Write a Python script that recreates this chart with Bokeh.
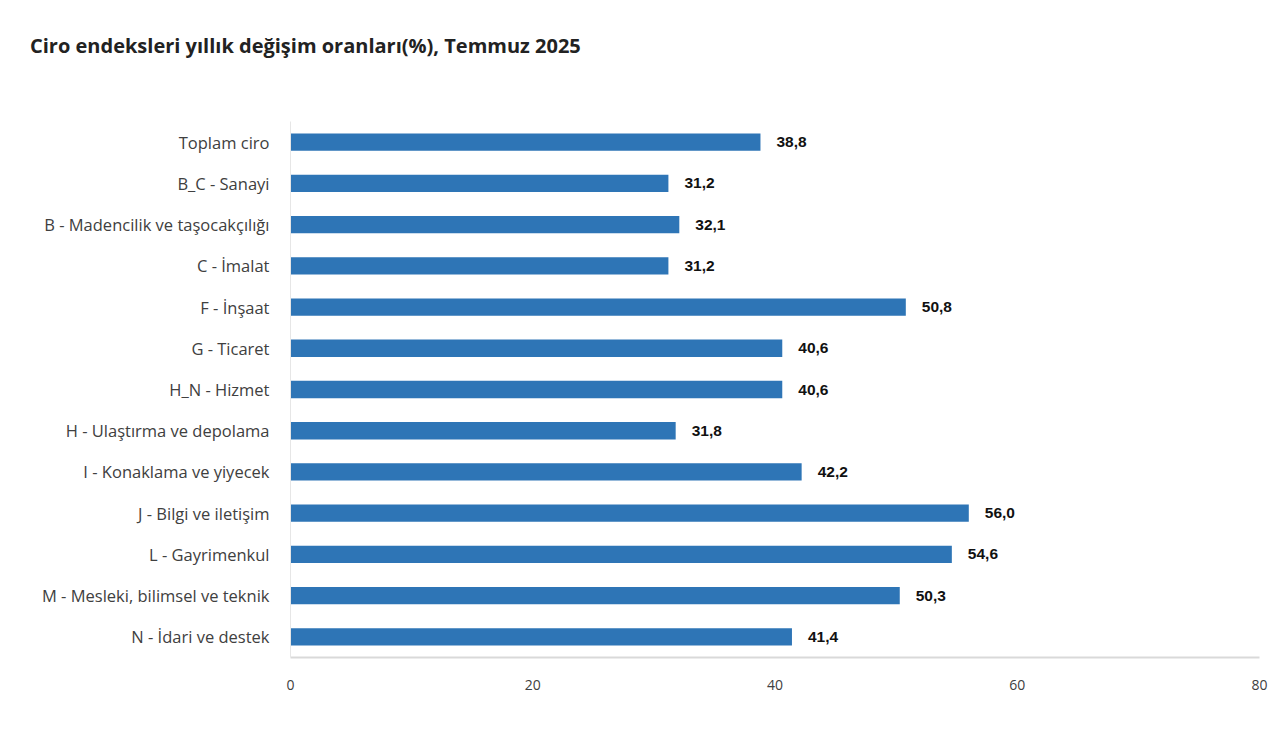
from bokeh.plotting import figure
from bokeh.models import FactorRange, Range1d, ColumnDataSource, FixedTicker, LabelSet, Div
from bokeh.layouts import column
from bokeh.core.properties import value
from bokeh.embed import file_html
from bokeh.resources import INLINE

title_text = "Ciro endeksleri yıllık değişim oranları(%), Temmuz 2025"
categories = [
    "Toplam ciro",
    "B_C - Sanayi",
    "B - Madencilik ve taşocakçılığı",
    "C - İmalat",
    "F - İnşaat",
    "G - Ticaret",
    "H_N - Hizmet",
    "H - Ulaştırma ve depolama",
    "I - Konaklama ve yiyecek",
    "J - Bilgi ve iletişim",
    "L - Gayrimenkul",
    "M - Mesleki, bilimsel ve teknik",
    "N - İdari ve destek",
]
values = [38.8, 31.2, 32.1, 31.2, 50.8, 40.6, 40.6, 31.8, 42.2, 56.0, 54.6, 50.3, 41.4]
x_ticks = [0, 20, 40, 60, 80]

labels = [f"{v:.1f}".replace(".", ",") for v in values]
src = ColumnDataSource(dict(cat=categories, val=values, lab=labels))

W = 1272
DIV_H = 64
H = 743 - DIV_H

head = Div(text=title_text, width=W, height=DIV_H, margin=(0, 0, 0, 0),
           styles={"font-family": "Open Sans", "font-weight": "bold",
                   "font-size": "20px", "color": "#222222",
                   "padding-left": "30px", "padding-top": "32px",
                   "box-sizing": "border-box", "line-height": "28px"})

p = figure(
    width=W, height=H,
    y_range=FactorRange(factors=list(reversed(categories))),
    x_range=Range1d(0, 80),
    output_backend="svg", toolbar_location=None,
    min_border_left=290, min_border_right=W - 1259,
    min_border_top=121 - DIV_H, min_border_bottom=743 - 657,
    margin=(0, 0, 0, 0),
)
p.outline_line_color = None
p.background_fill_color = "white"
p.border_fill_color = "white"

p.hbar(y="cat", right="val", left=0, height=0.42, source=src,
       fill_color="#2e75b6", line_color=None)

ls = LabelSet(x="val", y="cat", text="lab", source=src, x_offset=16,
              text_baseline="middle", text_font=value("Liberation Sans"),
              text_font_style="bold", text_font_size="15.5px", text_color="#111111")
p.add_layout(ls)

p.xgrid.grid_line_color = None
p.ygrid.grid_line_color = None

p.xaxis.ticker = FixedTicker(ticks=x_ticks)
p.xaxis.axis_line_color = "#d9d9d9"
p.xaxis.axis_line_width = 2
p.xaxis.major_tick_line_color = None
p.xaxis.minor_tick_line_color = None
p.xaxis.major_label_standoff = 16
p.xaxis.major_label_text_font = "Open Sans"
p.xaxis.major_label_text_font_size = "14px"
p.xaxis.major_label_text_color = "#404040"

p.yaxis.axis_line_color = "#e6e6e6"
p.yaxis.major_tick_line_color = None
p.yaxis.minor_tick_line_color = None
p.yaxis.major_label_standoff = 15
p.yaxis.major_label_text_font = "Open Sans"
p.yaxis.major_label_text_font_size = "16.5px"
p.yaxis.major_label_text_color = "#404040"

layout = column(head, p, spacing=0)
open("out.html", "w").write(file_html(layout, INLINE))
